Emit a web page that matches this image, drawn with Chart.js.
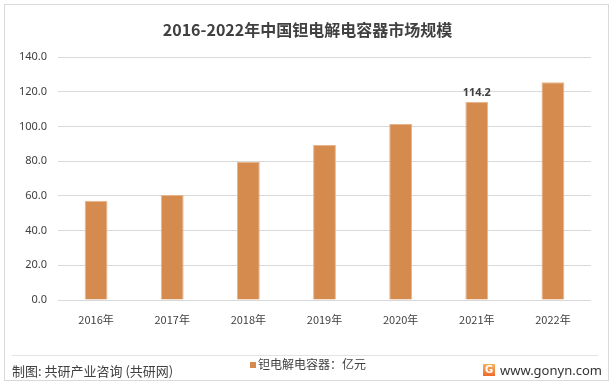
<!DOCTYPE html>
<html><head><meta charset="utf-8">
<script src="https://cdn.jsdelivr.net/npm/chart.js@4/dist/chart.umd.min.js"></script>
<style>
html,body{margin:0;padding:0;background:#fff;}
#wrap{position:relative;width:615px;height:392px;overflow:hidden;font-family:"Noto Sans CJK SC","Noto Sans",sans-serif;}
#frame{position:absolute;left:4px;top:4px;width:605px;height:377px;border:1px solid #d9d9d9;box-sizing:border-box;}
#title{position:absolute;left:0;width:615px;top:18px;text-align:center;font-size:16px;font-weight:bold;color:#404040;line-height:22px;}
#sep{position:absolute;left:12px;width:586px;top:355px;height:1px;background:#e3e3e3;}
#src{position:absolute;left:12px;top:362px;font-size:13px;color:#404040;line-height:18px;}
#leg{position:absolute;left:250px;top:356px;font-size:12px;color:#404040;line-height:16px;}
#leg span{display:inline-block;width:6px;height:6px;background:#D58B4E;margin-right:2px;vertical-align:1px;}
#site{position:absolute;left:500px;top:361px;font-size:13px;color:#333;line-height:18px;font-family:"Noto Sans",sans-serif;}
#logo{position:absolute;left:483px;top:364px;width:12px;height:12px;background:linear-gradient(#f9b25b,#ef6a2d);color:#fff;font-size:10px;font-weight:bold;line-height:12px;text-align:center;font-family:"DejaVu Sans",sans-serif;}
canvas{position:absolute;left:0;top:0;}
</style></head>
<body><div id="wrap">
<canvas id="c" width="615" height="392"></canvas>
<div id="frame"></div>
<div id="title">2016-2022年中国钽电解电容器市场规模</div>
<div id="sep"></div>
<div id="src">制图: 共研产业咨询 (共研网)</div>
<div id="leg"><span></span>钽电解电容器：亿元</div>
<div id="logo">G</div>
<div id="site">www.gonyn.com</div>
</div>
<script>
const categories = ["2016年","2017年","2018年","2019年","2020年","2021年","2022年"];
const values = [57.2, 60.5, 79.5, 89.3, 101.4, 114.2, 125.4];
const labeledIndex = [5];
const seriesName = "钽电解电容器：亿元";

const labelPlugin = {
  id: 'labels',
  afterDatasetsDraw(chart) {
    const ctx = chart.ctx;
    const meta = chart.getDatasetMeta(0);
    ctx.save();
    ctx.font = 'bold 11px "Noto Sans", sans-serif';
    ctx.fillStyle = '#404040';
    ctx.textAlign = 'center';
    ctx.textBaseline = 'bottom';
    labeledIndex.forEach(i => {
      const el = meta.data[i];
      ctx.fillText(values[i].toFixed(1), el.x, el.y - 3);
    });
    ctx.restore();
  }
};

new Chart(document.getElementById('c'), {
  type: 'bar',
  data: {
    labels: categories,
    datasets: [{
      label: seriesName,
      data: values,
      backgroundColor: '#D58B4E',
      borderColor: '#E8B58A',
      borderWidth: 1,
      barPercentage: 0.6,
      categoryPercentage: 0.5
    }]
  },
  options: {
    responsive: false,
    animation: false,
    layout: { padding: { left: 8, right: 24, top: 57, bottom: 62 } },
    plugins: { legend: { display: false }, title: { display: false }, tooltip: { enabled: false } },
    scales: {
      x: {
        grid: { display: false },
        border: { display: false },
        ticks: { color: '#404040', font: { size: 11, family: '"Noto Sans CJK SC", sans-serif' }, padding: 5 },
        afterFit(s) { s.height = 30; }
      },
      y: {
        min: 0, max: 140,
        ticks: { stepSize: 20, color: '#404040', font: { size: 11, family: '"Noto Sans", sans-serif' }, padding: 11,
          callback: v => v.toFixed(1) },
        grid: { color: '#d9d9d9', drawTicks: false },
        border: { display: false },
        afterFit(s) { s.width = 50; }
      }
    }
  },
  plugins: [labelPlugin]
});
</script>
</body></html>
